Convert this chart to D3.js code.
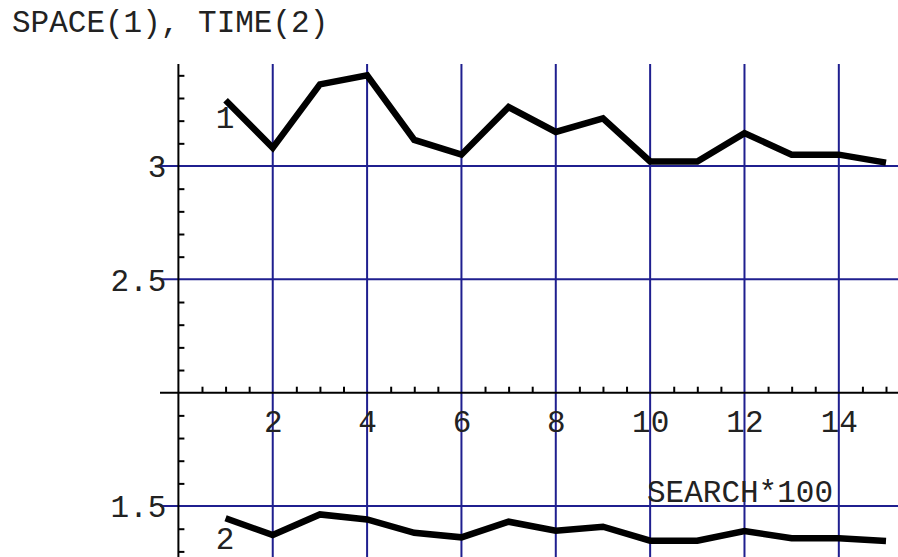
<!DOCTYPE html>
<html>
<head>
<meta charset="utf-8">
<script src="https://cdn.jsdelivr.net/npm/d3@7"></script>
<style>
  body { margin: 0; background: #fff; }
  text { font-family: "Liberation Mono", "DejaVu Sans Mono", monospace; font-size: 31px; fill: #222; }
</style>
</head>
<body>
<svg id="chart" width="898" height="557"></svg>
<script>
// data
const searchX = [1, 2, 3, 4, 5, 6, 7, 8, 9, 10, 11, 12, 13, 14, 15];
const space = [3.29, 3.08, 3.36, 3.40, 3.115, 3.05, 3.26, 3.15, 3.21, 3.02, 3.02, 3.145, 3.05, 3.05, 3.015];
const time = [1.446, 1.372, 1.463, 1.441, 1.382, 1.362, 1.431, 1.391, 1.409, 1.347, 1.347, 1.39, 1.358, 1.358, 1.346];
const xLabels = [2, 4, 6, 8, 10, 12, 14];
const yLabels = [1.5, 2.5, 3];

const width = 898, height = 557;
const svg = d3.select("#chart");

const x = d3.scaleLinear().domain([0, 15]).range([178.4, 886]);
const y = d3.scaleLinear().domain([2, 3]).range([392.7, 166]);

const gridColor = "#1f1f8f";
const plotTop = 64;

// grid
svg.append("g").selectAll("line").data(xLabels).enter().append("line")
  .attr("x1", d => x(d)).attr("x2", d => x(d))
  .attr("y1", plotTop).attr("y2", height)
  .attr("stroke", gridColor).attr("stroke-width", 2);

svg.append("g").selectAll("line").data(yLabels).enter().append("line")
  .attr("x1", 160).attr("x2", width)
  .attr("y1", d => y(d)).attr("y2", d => y(d))
  .attr("stroke", gridColor).attr("stroke-width", 2);

// axes lines
svg.append("line").attr("x1", 160).attr("x2", width)
  .attr("y1", y(2)).attr("y2", y(2)).attr("stroke", "#000").attr("stroke-width", 2);
svg.append("line").attr("x1", x(0)).attr("x2", x(0))
  .attr("y1", plotTop).attr("y2", height).attr("stroke", "#000").attr("stroke-width", 2);

// minor ticks
const xMinor = d3.range(0.5, 15.01, 0.5).filter(v => v % 2 !== 0);
const xAxis = svg.append("g").attr("transform", `translate(0,${y(2)})`)
  .call(d3.axisBottom(x).tickValues(xMinor).tickSizeInner(-6).tickSizeOuter(0).tickFormat(""));
xAxis.select(".domain").remove();
xAxis.selectAll("line").attr("stroke", "#000").attr("stroke-width", 2);

const yMinor = d3.range(13, 35).map(v => v / 10).filter(v => yLabels.indexOf(v) < 0 && v !== 2);
const yAxis = svg.append("g").attr("transform", `translate(${x(0)},0)`)
  .call(d3.axisLeft(y).tickValues(yMinor).tickSizeInner(-6).tickSizeOuter(0).tickFormat(""));
yAxis.select(".domain").remove();
yAxis.selectAll("line").attr("stroke", "#000").attr("stroke-width", 2);

// tick labels
const xLab = svg.append("g").attr("transform", `translate(0,${y(2)})`)
  .call(d3.axisBottom(x).tickValues(xLabels).tickSize(0));
xLab.select(".domain").remove();
xLab.selectAll("text").attr("y", 39).attr("dy", 0)
  .attr("font-size", null).attr("font-family", null).attr("fill", null);

const yLab = svg.append("g").attr("transform", `translate(${x(0)},0)`)
  .call(d3.axisLeft(y).tickValues(yLabels).tickSize(0).tickFormat(d3.format("")));
yLab.select(".domain").remove();
yLab.selectAll("text").attr("x", -12).attr("dy", "0.35em")
  .attr("font-size", null).attr("font-family", null).attr("fill", null);

// series
const line = d3.line().x((d, i) => x(searchX[i])).y(d => y(d));
[space, time].forEach(s => {
  svg.append("path").datum(s).attr("d", line)
    .attr("fill", "none").attr("stroke", "#000")
    .attr("stroke-width", 6.5).attr("stroke-linejoin", "miter");
});

// texts
svg.append("text").attr("x", 12).attr("y", 32).text("SPACE(1), TIME(2)");
svg.append("text").attr("x", 225).attr("y", 128).attr("text-anchor", "middle").text("1");
svg.append("text").attr("x", 225).attr("y", 549).attr("font-size", 29).attr("text-anchor", "middle").text("2");
svg.append("text").attr("x", 647).attr("y", 502).text("SEARCH*100");
</script>
</body>
</html>
